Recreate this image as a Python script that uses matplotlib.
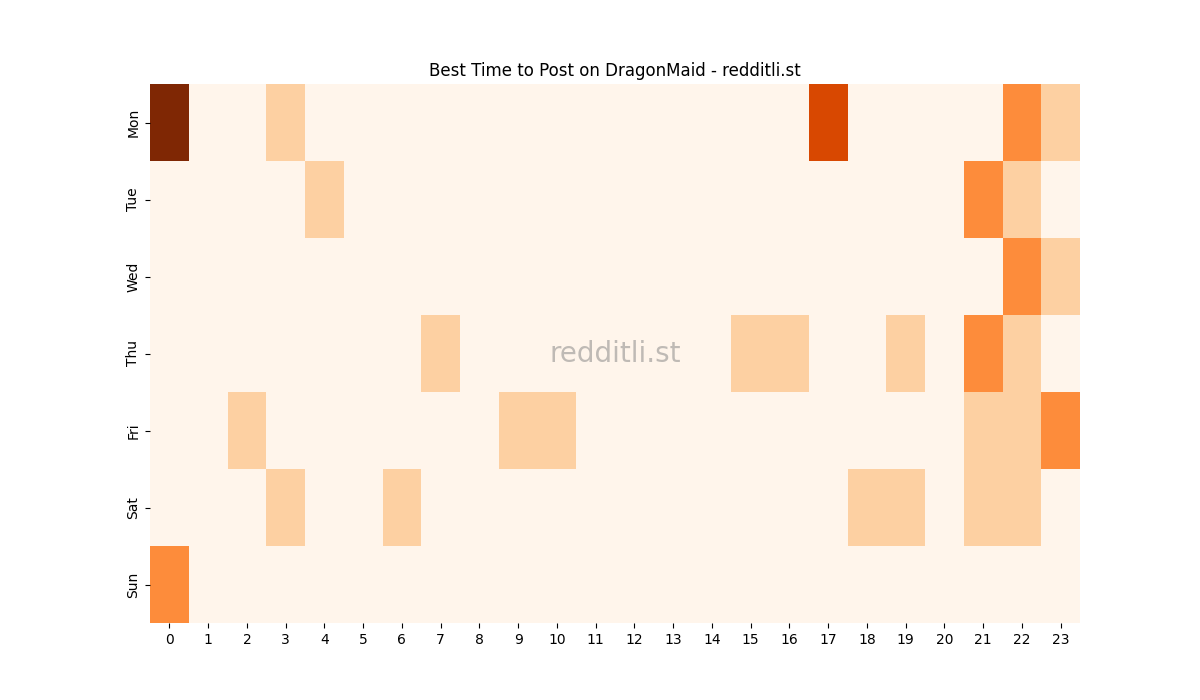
import numpy as np
import matplotlib
matplotlib.use("Agg")
import matplotlib.pyplot as plt

days = ["Mon", "Tue", "Wed", "Thu", "Fri", "Sat", "Sun"]
hours = list(range(24))

# posts per (day, hour)
mon = [4, 0, 0, 1, 0, 0, 0, 0, 0, 0, 0, 0, 0, 0, 0, 0, 0, 3, 0, 0, 0, 0, 2, 1]
tue = [0, 0, 0, 0, 1, 0, 0, 0, 0, 0, 0, 0, 0, 0, 0, 0, 0, 0, 0, 0, 0, 2, 1, 0]
wed = [0, 0, 0, 0, 0, 0, 0, 0, 0, 0, 0, 0, 0, 0, 0, 0, 0, 0, 0, 0, 0, 0, 2, 1]
thu = [0, 0, 0, 0, 0, 0, 0, 1, 0, 0, 0, 0, 0, 0, 0, 1, 1, 0, 0, 1, 0, 2, 1, 0]
fri = [0, 0, 1, 0, 0, 0, 0, 0, 0, 1, 1, 0, 0, 0, 0, 0, 0, 0, 0, 0, 0, 1, 1, 2]
sat = [0, 0, 0, 1, 0, 0, 1, 0, 0, 0, 0, 0, 0, 0, 0, 0, 0, 0, 1, 1, 0, 1, 1, 0]
sun = [2, 0, 0, 0, 0, 0, 0, 0, 0, 0, 0, 0, 0, 0, 0, 0, 0, 0, 0, 0, 0, 0, 0, 0]

grid = np.array([mon, tue, wed, thu, fri, sat, sun])

fig, ax = plt.subplots(figsize=(12, 7), dpi=100)
ax.pcolormesh(grid, cmap="Oranges", vmin=0, vmax=grid.max())
ax.set_xlim(0, 24)
ax.set_ylim(7, 0)
ax.set_xticks(np.arange(24) + 0.5)
ax.set_xticklabels([str(h) for h in hours])
ax.set_yticks(np.arange(7) + 0.5)
ax.set_yticklabels(days, rotation=90, va="center")
for s in ax.spines.values():
    s.set_visible(False)
ax.set_title("Best Time to Post on DragonMaid - redditli.st")
ax.text(0.5, 0.5, "redditli.st", transform=ax.transAxes, ha="center",
        va="center", fontsize=20, color="gray", alpha=0.5)

fig.savefig("out.png")
